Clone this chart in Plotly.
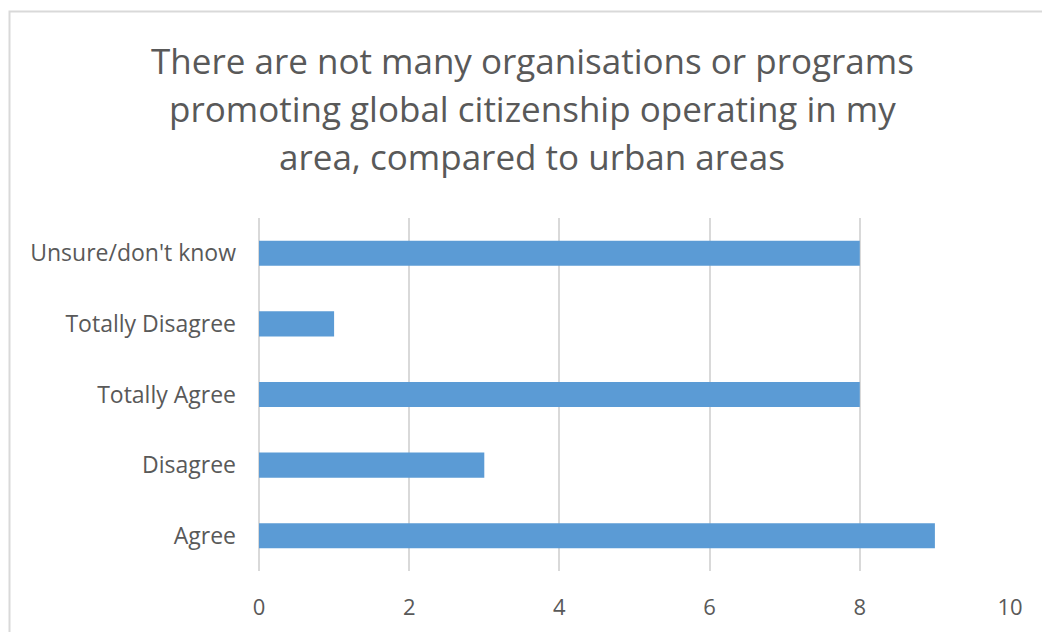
import plotly.graph_objects as go

# Survey responses (counts), listed bottom to top
categories = ["Agree", "Disagree", "Totally Agree", "Totally Disagree", "Unsure/don't know"]
counts = [9, 3, 8, 1, 8]
x_ticks = [0, 2, 4, 6, 8, 10]

title_lines = [
    "There are not many organisations or programs",
    "promoting global citizenship operating in my",
    "area, compared to urban areas",
]

W, H = 1042, 632
L, R, T, B = 259, 32, 218, 61
plot_w = W - L - R
plot_h = H - T - B


def px_x(p):
    return (p - L) / plot_w


def px_y(p):
    return (H - B - p) / plot_h


FONT = "Open Sans"
GREY = "#595959"

fig = go.Figure(
    go.Bar(
        y=categories,
        x=counts,
        orientation="h",
        marker=dict(color="#5B9BD5", line=dict(width=0)),
        width=0.355,
        hoverinfo="x+y",
    )
)

annotations = []
for i, line in enumerate(title_lines):
    annotations.append(
        dict(
            text=line,
            xref="paper", yref="paper",
            x=px_x(532), y=px_y(60 + i * 48.5),
            xanchor="center", yanchor="middle",
            showarrow=False,
            font=dict(family=FONT, size=35, color=GREY),
        )
    )

fig.update_layout(
    width=W, height=H,
    margin=dict(l=L, r=R, t=T, b=B, pad=0),
    paper_bgcolor="white",
    plot_bgcolor="white",
    showlegend=False,
    annotations=annotations,
    shapes=[
        dict(
            type="rect", xref="paper", yref="paper",
            x0=px_x(9.5), x1=px_x(1080), y0=px_y(11.5), y1=px_y(700),
            line=dict(color="#D9D9D9", width=2), fillcolor="rgba(0,0,0,0)",
            layer="below",
        )
    ],
    xaxis=dict(
        range=[0, 10],
        tickvals=x_ticks,
        showgrid=True, gridcolor="#D9D9D9", gridwidth=2,
        zeroline=True, zerolinecolor="#D9D9D9", zerolinewidth=2,
        showline=False,
        ticks="", ticklabelstandoff=21,
        tickfont=dict(family=FONT, size=22, color=GREY),
    ),
    yaxis=dict(
        showgrid=False, zeroline=False, showline=False,
        ticks="", ticklabelstandoff=22,
        tickfont=dict(family=FONT, size=23, color=GREY),
        categoryorder="array", categoryarray=categories,
    ),
)

fig.write_html("out.html")
